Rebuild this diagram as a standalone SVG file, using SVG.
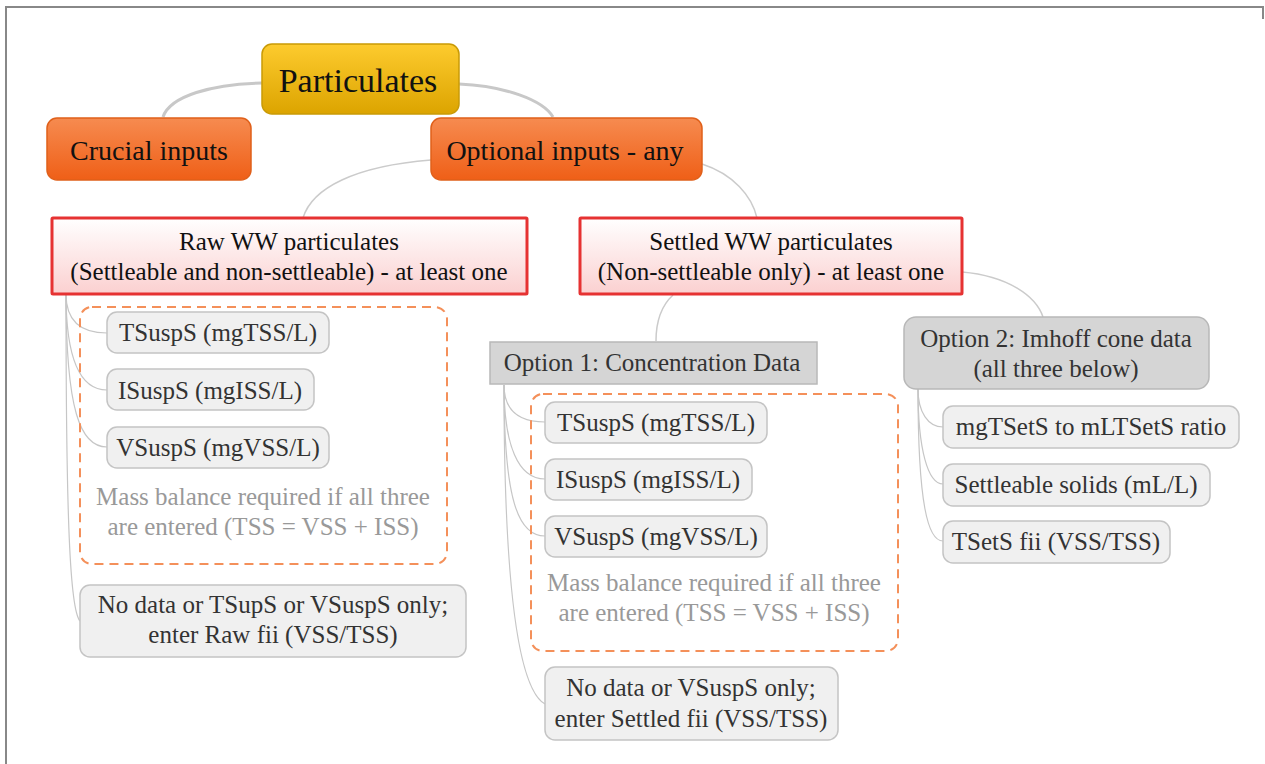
<svg xmlns="http://www.w3.org/2000/svg" width="1265" height="764" viewBox="0 0 1265 764">
  <defs>
    <linearGradient id="gYellow" x1="0" y1="0" x2="0" y2="1">
      <stop offset="0" stop-color="#fdcb2e"/>
      <stop offset="1" stop-color="#dca400"/>
    </linearGradient>
    <linearGradient id="gOrange" x1="0" y1="0" x2="0" y2="1">
      <stop offset="0" stop-color="#f68b50"/>
      <stop offset="1" stop-color="#ef5f17"/>
    </linearGradient>
    <linearGradient id="gPink" x1="0" y1="0" x2="0" y2="1">
      <stop offset="0" stop-color="#ffffff"/>
      <stop offset="1" stop-color="#fbd0d0"/>
    </linearGradient>
    <style>
      text { font-family: "Liberation Serif", "Times New Roman", serif; text-anchor: middle; }
      .main { font-size: 34px; fill: #111; }
      .big { font-size: 28px; fill: #111; }
      .hdr { font-size: 25px; fill: #111; }
      .leaf { font-size: 25px; fill: #333; }
      .note { font-size: 25px; fill: #999; }
      .root { fill: url(#gYellow); stroke: #c99a06; stroke-width: 1.5; }
      .branch { fill: url(#gOrange); stroke: #e0601a; stroke-width: 1.5; }
      .group { fill: url(#gPink); stroke: #e63232; stroke-width: 3; }
      .leafbox { fill: #f0f0f0; stroke: #c4c4c4; stroke-width: 1.5; }
      .opt { fill: #d5d5d5; stroke: #b8b8b8; stroke-width: 1.5; }
      .dash { fill: none; stroke: #f4905a; stroke-width: 2; stroke-dasharray: 9 6; }
      .frame { fill: none; stroke: #888; stroke-width: 2; }
      .c-thick { fill: none; stroke: #c8c8c8; stroke-width: 3; }
      .c-mid { fill: none; stroke: #cbcbcb; stroke-width: 1.5; }
      .c-thin { fill: none; stroke: #c6c6c6; stroke-width: 1.2; }
    </style>
  </defs>

  <rect width="1265" height="764" fill="#ffffff"/>

  <!-- outer frame -->
  <path class="frame" d="M 6 764 L 6 7 L 1263 7 L 1263 19"/>

  <!-- connectors -->
  <g id="connectors">
    <path class="c-thick" d="M 262 83 C 212 84, 170 96, 163 117"/>
    <path class="c-thick" d="M 459 84 C 505 86, 543 100, 553 117"/>
    <path class="c-mid" d="M 431 160 C 355 166, 312 188, 303 218"/>
    <path class="c-mid" d="M 702 164 C 733 174, 752 196, 757 218"/>
    <path class="c-mid" d="M 673 295 C 661 306, 656 322, 656 341"/>
    <path class="c-mid" d="M 962 272 C 1008 276, 1036 296, 1043 317"/>
    <!-- raw WW children -->
    <path class="c-thin" d="M 66 294 C 66 318, 78 333, 107 333"/>
    <path class="c-thin" d="M 66 294 C 66 360, 80 390, 107 390"/>
    <path class="c-thin" d="M 66 294 C 66 410, 80 447, 107 447"/>
    <path class="c-thin" d="M 66 294 C 66 520, 70 610, 80 621"/>
    <!-- option 1 children -->
    <path class="c-thin" d="M 504 385 C 504 408, 516 422, 545 422"/>
    <path class="c-thin" d="M 504 385 C 504 445, 518 479, 545 479"/>
    <path class="c-thin" d="M 504 385 C 504 500, 518 536, 545 536"/>
    <path class="c-thin" d="M 504 385 C 504 600, 520 690, 545 704"/>
    <!-- option 2 children -->
    <path class="c-thin" d="M 918 389 C 918 412, 928 427, 943 427"/>
    <path class="c-thin" d="M 918 389 C 918 450, 928 484, 943 484"/>
    <path class="c-thin" d="M 918 389 C 918 505, 928 541, 943 541"/>
  </g>

  <g id="particulates">
    <rect class="root" x="262" y="44" width="197" height="70" rx="10"/>
    <text class="main" x="358" y="92">Particulates</text>
  </g>

  <g id="crucial-inputs">
    <rect class="branch" x="47" y="118" width="204" height="62" rx="10"/>
    <text class="big" x="149" y="160">Crucial inputs</text>
  </g>

  <g id="optional-inputs">
    <rect class="branch" x="431" y="118" width="271" height="62" rx="10"/>
    <text class="big" x="565" y="160">Optional inputs - any</text>
  </g>

  <g id="raw-ww">
    <rect class="group" x="52" y="218" width="475" height="76" rx="1"/>
    <text class="hdr" x="289" y="250">Raw WW particulates</text>
    <text class="hdr" x="289" y="280">(Settleable and non-settleable) - at least one</text>
  </g>

  <g id="settled-ww">
    <rect class="group" x="580" y="218" width="382" height="76" rx="1"/>
    <text class="hdr" x="771" y="250">Settled WW particulates</text>
    <text class="hdr" x="771" y="280">(Non-settleable only) - at least one</text>
  </g>

  <!-- raw WW concentration group -->
  <g id="raw-group">
    <rect class="dash" x="80" y="307" width="367" height="257" rx="12"/>
    <text class="note" x="263" y="505">Mass balance required if all three</text>
    <text class="note" x="263" y="535">are entered (TSS = VSS + ISS)</text>
  </g>
  <g id="raw-tss">
    <rect class="leafbox" x="107" y="312" width="222" height="41" rx="10"/>
    <text class="leaf" x="218" y="341">TSuspS (mgTSS/L)</text>
  </g>
  <g id="raw-iss">
    <rect class="leafbox" x="107" y="369" width="207" height="41" rx="10"/>
    <text class="leaf" x="210" y="399">ISuspS (mgISS/L)</text>
  </g>
  <g id="raw-vss">
    <rect class="leafbox" x="107" y="427" width="222" height="41" rx="10"/>
    <text class="leaf" x="218" y="456">VSuspS (mgVSS/L)</text>
  </g>
  <g id="raw-nodata">
    <rect class="leafbox" x="80" y="585" width="386" height="72" rx="10"/>
    <text class="leaf" x="273" y="613">No data or TSupS or VSuspS only;</text>
    <text class="leaf" x="273" y="643">enter Raw fii (VSS/TSS)</text>
  </g>

  <g id="option-1">
    <rect class="opt" x="490" y="342" width="327" height="42"/>
    <text class="leaf" x="652" y="371">Option 1: Concentration Data</text>
  </g>

  <g id="settled-group">
    <rect class="dash" x="531" y="394" width="367" height="257" rx="12"/>
    <text class="note" x="714" y="591">Mass balance required if all three</text>
    <text class="note" x="714" y="621">are entered (TSS = VSS + ISS)</text>
  </g>
  <g id="settled-tss">
    <rect class="leafbox" x="545" y="402" width="222" height="41" rx="10"/>
    <text class="leaf" x="656" y="431">TSuspS (mgTSS/L)</text>
  </g>
  <g id="settled-iss">
    <rect class="leafbox" x="545" y="459" width="207" height="41" rx="10"/>
    <text class="leaf" x="648" y="488">ISuspS (mgISS/L)</text>
  </g>
  <g id="settled-vss">
    <rect class="leafbox" x="545" y="516" width="222" height="41" rx="10"/>
    <text class="leaf" x="656" y="545">VSuspS (mgVSS/L)</text>
  </g>
  <g id="settled-nodata">
    <rect class="leafbox" x="545" y="667" width="293" height="73" rx="10"/>
    <text class="leaf" x="691" y="696">No data or VSuspS only;</text>
    <text class="leaf" x="691" y="727">enter Settled fii (VSS/TSS)</text>
  </g>

  <g id="option-2">
    <rect class="opt" x="904" y="317" width="305" height="72" rx="12"/>
    <text class="leaf" x="1056" y="347">Option 2: Imhoff cone data</text>
    <text class="leaf" x="1056" y="377">(all three below)</text>
  </g>
  <g id="imhoff-ratio">
    <rect class="leafbox" x="943" y="406" width="296" height="42" rx="10"/>
    <text class="leaf" x="1091" y="435">mgTSetS to mLTSetS ratio</text>
  </g>
  <g id="imhoff-solids">
    <rect class="leafbox" x="943" y="464" width="267" height="42" rx="10"/>
    <text class="leaf" x="1076" y="493">Settleable solids (mL/L)</text>
  </g>
  <g id="imhoff-fii">
    <rect class="leafbox" x="943" y="521" width="227" height="42" rx="10"/>
    <text class="leaf" x="1056" y="550">TSetS fii (VSS/TSS)</text>
  </g>
</svg>
